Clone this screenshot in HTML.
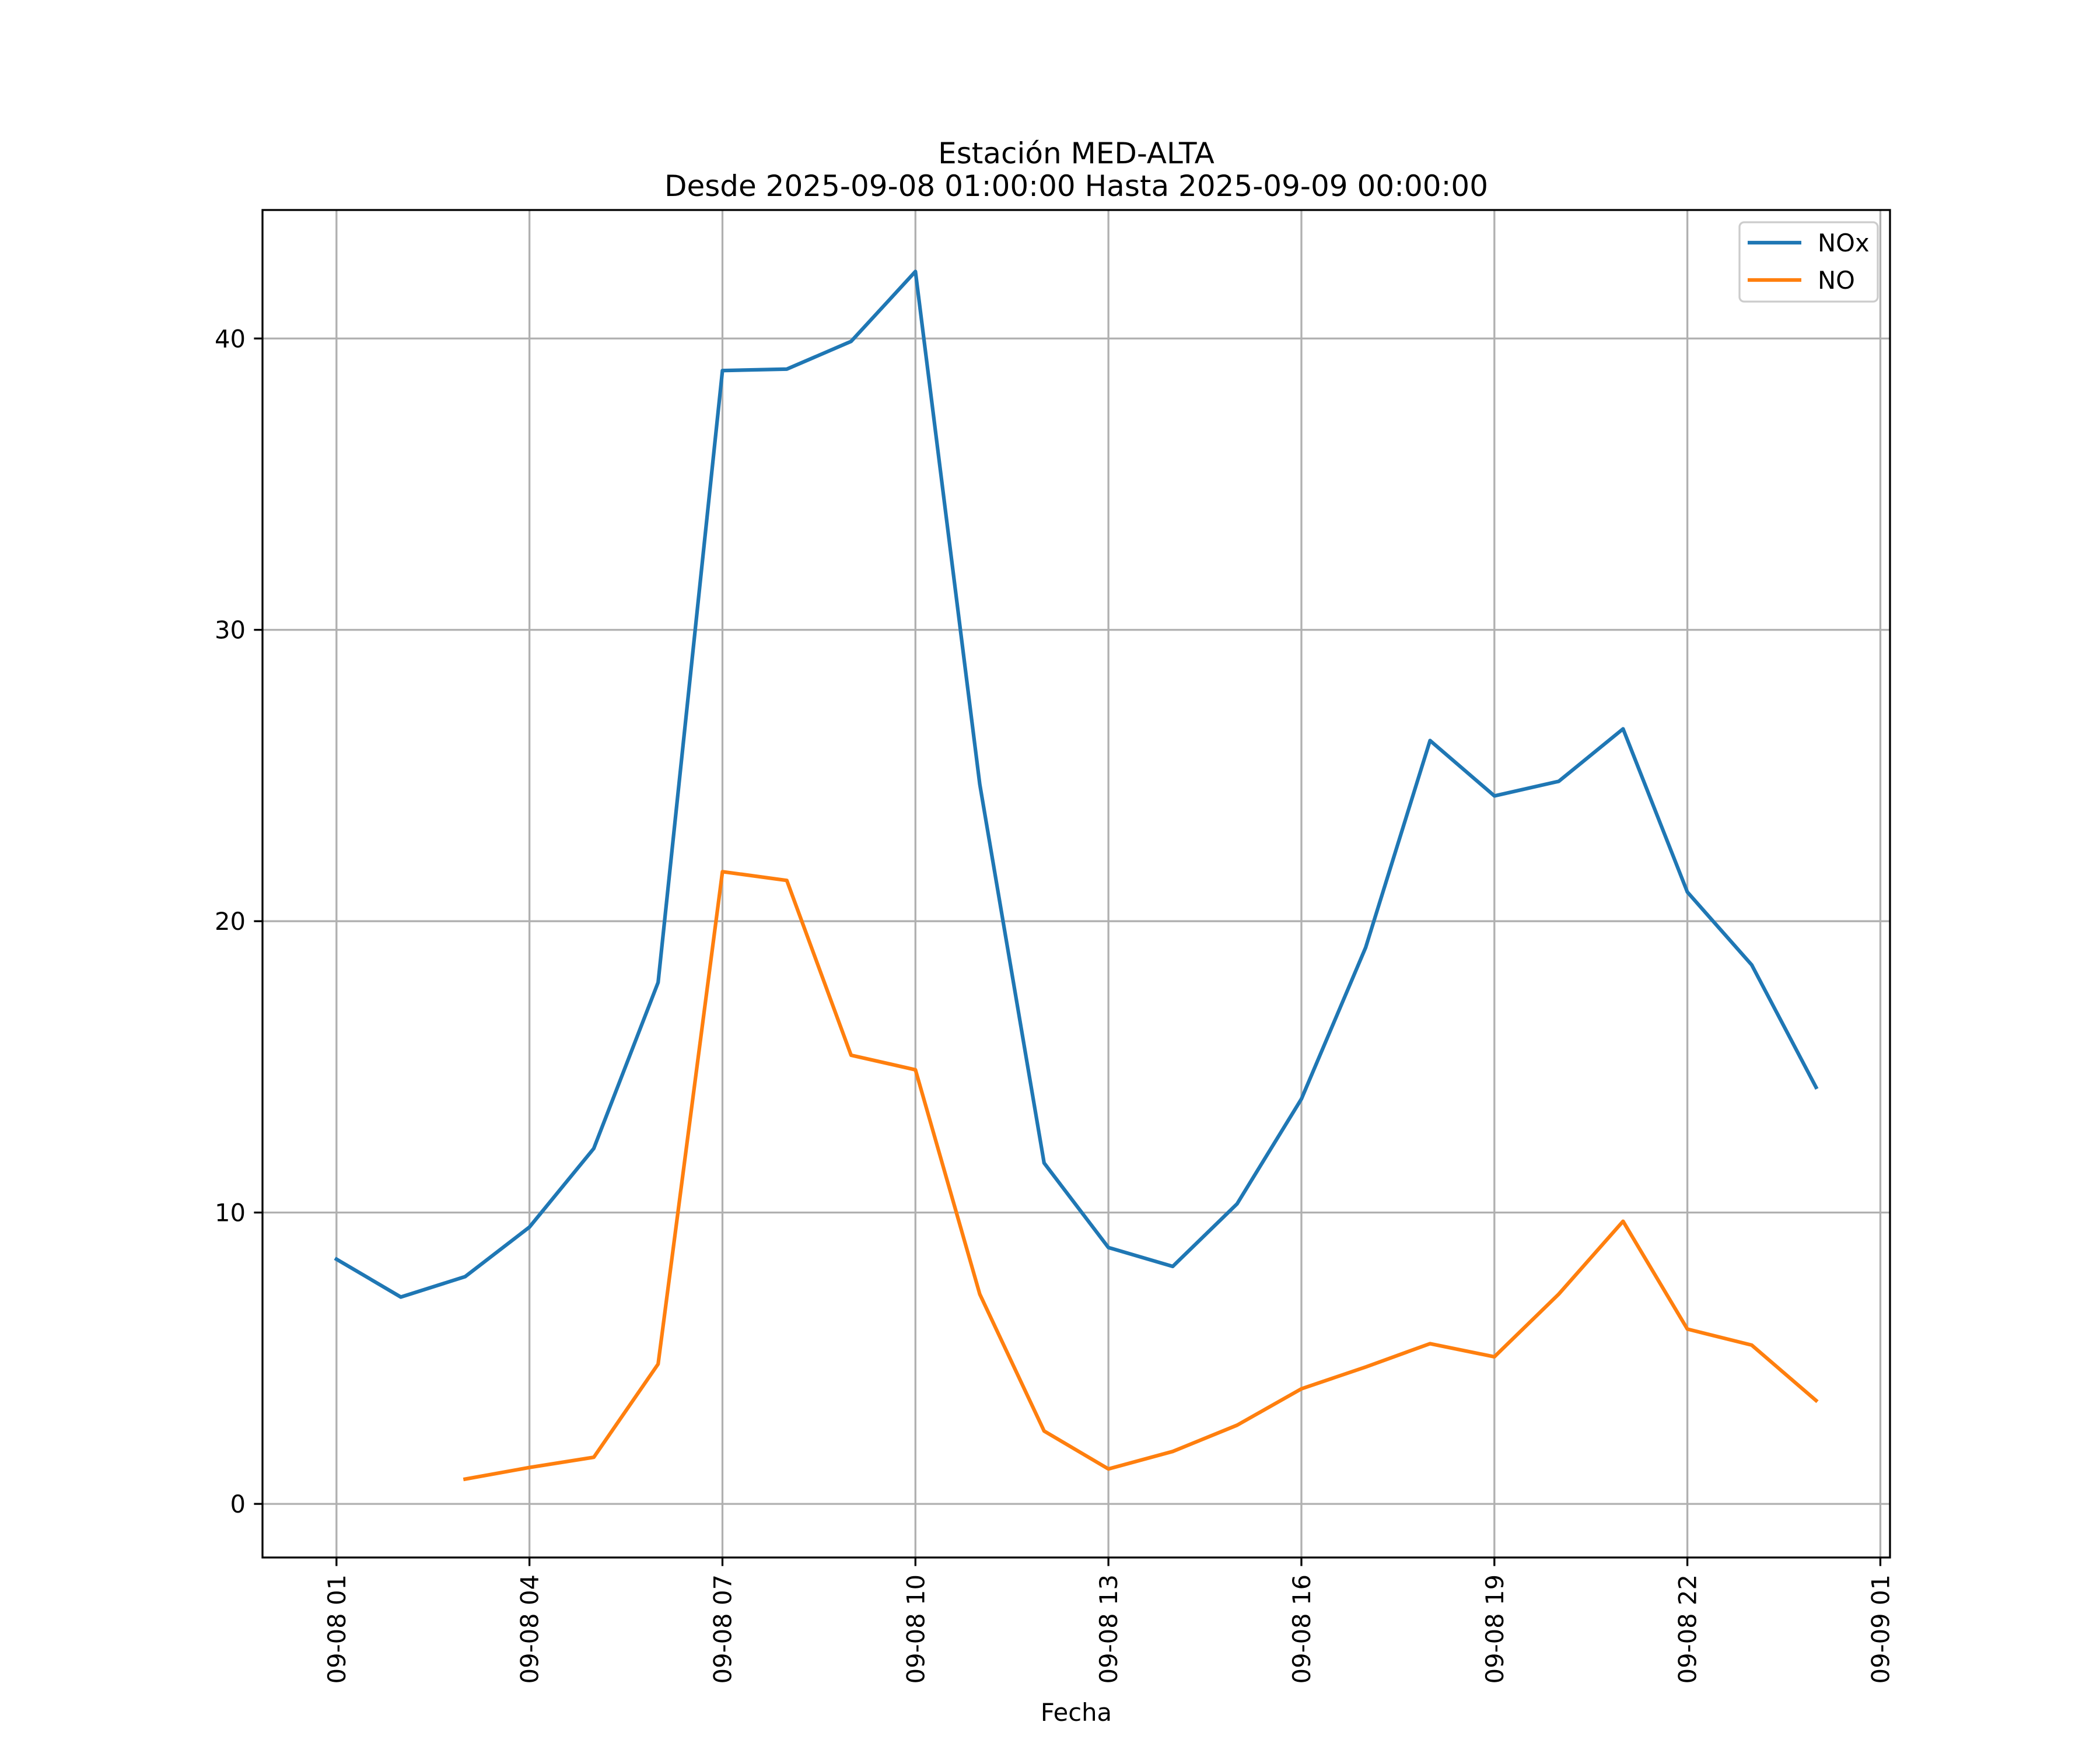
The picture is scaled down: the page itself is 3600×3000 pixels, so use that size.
<!DOCTYPE html>
<html><head><meta charset="utf-8"><style>
html,body{margin:0;padding:0;background:#fff;}
svg{display:block;font-family:"DejaVu Sans","Liberation Sans",sans-serif;}
</style></head><body>
<svg id="chart" width="3600" height="3000" viewBox="0 0 3600 3000">
<rect width="3600" height="3000" fill="#fff"/>
<text x="1845" y="280" font-size="50" text-anchor="middle">Estación MED-ALTA</text>
<text x="1845" y="336" font-size="50" text-anchor="middle">Desde 2025-09-08 01:00:00 Hasta 2025-09-09 00:00:00</text>
<g id="grid"></g>
<g id="series"></g>
<rect x="450" y="360" width="2790" height="2310" fill="none" stroke="#000" stroke-width="3.3"/>
<g id="ticks"></g>
<text x="1845" y="2950" font-size="41.7" text-anchor="middle">Fecha</text>
<g>
<rect x="2982" y="381" width="237" height="136" rx="8" fill="#fff" fill-opacity="0.8" stroke="#ccc" stroke-width="3.3"/>
<line x1="2996" y1="416" x2="3088" y2="416" stroke="#1f77b4" stroke-width="6.25"/>
<text x="3116" y="431" font-size="41.7">NOx</text>
<line x1="2996" y1="480" x2="3088" y2="480" stroke="#ff7f0e" stroke-width="6.25"/>
<text x="3116" y="495" font-size="41.7">NO</text>
</g>
</svg>
<script>
const hours = [0,1,2,3,4,5,6,7,8,9,10,11,12,13,14,15,16,17,18,19,20,21,22,23];
const noxValues = [8.4,7.1,7.8,9.5,12.2,17.9,38.9,38.95,39.9,42.3,24.7,11.7,8.8,8.15,10.3,13.9,19.1,26.2,24.3,24.8,26.6,21.0,18.5,14.3];
const noValues = [null,null,0.85,1.25,1.6,4.8,21.7,21.4,15.4,14.9,7.2,2.5,1.2,1.8,2.7,3.95,4.7,5.5,5.05,7.2,9.7,6.0,5.45,3.55];
const xTickHours = [0,3,6,9,12,15,18,21,24];
const xTickLabels = ["09-08 01","09-08 04","09-08 07","09-08 10","09-08 13","09-08 16","09-08 19","09-08 22","09-09 01"];
const yTicks = [0,10,20,30,40];

const X0=450,X1=3240,Y0=360,Y1=2670;
const xmin=-1.15,xmax=24.15,ymin=-1.84,ymax=44.41;
const NS="http://www.w3.org/2000/svg";
function xs(v){return X0+(v-xmin)/(xmax-xmin)*(X1-X0);}
function ys(v){return Y1-(v-ymin)/(ymax-ymin)*(Y1-Y0);}
function mk(tag,attrs,parent){const e=document.createElementNS(NS,tag);for(const k in attrs)e.setAttribute(k,attrs[k]);parent.appendChild(e);return e;}
const grid=document.getElementById('grid'),ticks=document.getElementById('ticks'),series=document.getElementById('series');
xTickHours.forEach((h,i)=>{
  const x=xs(h);
  const g=mk('line',{x1:x,x2:x,y1:Y0,y2:Y1,stroke:'#b0b0b0','stroke-width':3.3},grid);
  
  
  const t=mk('line',{x1:x,x2:x,y1:Y1,y2:Y1+14.6,stroke:'#000','stroke-width':3.3},ticks);
  
  
  const lb=mk('text',{x:0,y:0,'font-size':41.7,'text-anchor':'end',transform:`translate(${x+15},${Y1+29}) rotate(-90)`},ticks);
  lb.textContent=xTickLabels[i];
  
  
});
yTicks.forEach(v=>{
  const y=ys(v);
  const g=mk('line',{x1:X0,x2:X1,y1:y,y2:y,stroke:'#b0b0b0','stroke-width':3.3},grid);
  
  
  const t=mk('line',{x1:X0-14.6,x2:X0,y1:y,y2:y,stroke:'#000','stroke-width':3.3},ticks);
  
  
  const lb=mk('text',{x:X0-29,y:y+15,'font-size':41.7,'text-anchor':'end'},ticks);
  lb.textContent=String(v);
  
  
});
function path(vals){let d='',pen=false;vals.forEach((v,i)=>{if(v==null){pen=false;return;}d+=(pen?'L':'M')+xs(hours[i]).toFixed(1)+','+ys(v).toFixed(1);pen=true;});return d;}
const p1=mk('path',{d:path(noxValues),fill:'none',stroke:'#1f77b4','stroke-width':6.25,'stroke-linejoin':'round','stroke-linecap':'square'},series);


const p2=mk('path',{d:path(noValues),fill:'none',stroke:'#ff7f0e','stroke-width':6.25,'stroke-linejoin':'round','stroke-linecap':'square'},series);


</script>
</body></html>
